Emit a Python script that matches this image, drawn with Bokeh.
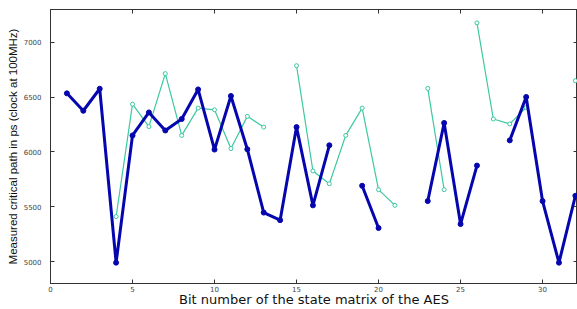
import numpy as np
from bokeh.plotting import figure
from bokeh.models import Range1d, LinearAxis, FixedTicker
from bokeh.embed import file_html
from bokeh.resources import INLINE

nan = float("nan")
bits = list(range(1, 33))
blue_ps = [6535, 6376, 6577, 4990, 6151, 6361, 6196, 6301, 6571, 6022, 6511, 6025,
           5447, 5378, 6227, 5513, 6061, nan, 5692, 5306, nan, nan, 5552, 6265,
           5342, 5876, nan, 6106, 6502, 5552, 4990, 5600]
teal_ps = [nan, nan, nan, 5411, 6436, 6232, 6715, 6151, 6400, 6385, 6031, 6325,
           6227, nan, 6787, 5827, 5710, 6151, 6400, 5656, 5513, nan, 6580, 5656,
           nan, 7178, 6301, 6256, 6406, nan, nan, 6650]
x_ticks = [0, 5, 10, 15, 20, 25, 30]
y_ticks = [5000, 5500, 6000, 6500, 7000]

BLUE = "#0606ae"
TEAL = "#3cc8a0"
FONT = "Liberation Sans"
WIDE = "DejaVu Sans"

p = figure(width=577, height=309, output_backend="svg", toolbar_location=None,
           x_range=Range1d(0, 32.13), y_range=Range1d(4800, 7300),
           min_border_left=50, min_border_right=0, min_border_top=9,
           min_border_bottom=22)
p.grid.visible = False
p.outline_line_color = "#333333"
p.outline_line_width = 1

p.line(bits, teal_ps, line_color=TEAL, line_width=1.2)
p.scatter(bits, teal_ps, marker="circle", size=4, line_color=TEAL,
          fill_color="white", line_width=1)
p.line(bits, blue_ps, line_color=BLUE, line_width=3)
p.scatter(bits, blue_ps, marker="circle", size=5, line_color=BLUE,
          fill_color=BLUE)

for ax in (p.xaxis[0], p.yaxis[0]):
    ax.major_tick_in = 4
    ax.major_tick_out = 0
    ax.minor_tick_in = 0
    ax.minor_tick_out = 0
    ax.axis_line_color = "#333333"
    ax.major_tick_line_color = "#333333"
    ax.major_label_text_font = WIDE
    ax.major_label_text_font_size = "7px"
    ax.major_label_text_color = "#444444"
    ax.axis_label_text_font_style = "normal"
    ax.axis_label_text_color = "#111111"

p.xaxis[0].ticker = FixedTicker(ticks=x_ticks)
p.yaxis[0].ticker = FixedTicker(ticks=y_ticks)
p.xaxis[0].axis_label = "Bit number of the state matrix of the AES"
p.xaxis[0].axis_label_text_font = WIDE
p.xaxis[0].axis_label_text_font_size = "13px"
p.xaxis[0].major_label_standoff = 2
p.xaxis[0].axis_label_standoff = -3
p.yaxis[0].axis_label = "Measured critical path in ps (clock at 100MHz)"
p.yaxis[0].axis_label_text_font = FONT
p.yaxis[0].axis_label_text_font_size = "11.5px"
p.yaxis[0].major_label_standoff = 9
p.yaxis[0].axis_label_standoff = 2

top = LinearAxis(ticker=FixedTicker(ticks=x_ticks),
                 major_label_overrides={t: "" for t in x_ticks},
                 major_tick_in=4, major_tick_out=0, minor_tick_in=0, minor_tick_out=0,
                 axis_line_color="#333333", major_tick_line_color="#333333")
right = LinearAxis(ticker=FixedTicker(ticks=y_ticks),
                   major_label_overrides={t: "" for t in y_ticks},
                   major_tick_in=4, major_tick_out=0, minor_tick_in=0, minor_tick_out=0,
                   axis_line_color="#333333", major_tick_line_color="#333333")
p.add_layout(top, "above")
p.add_layout(right, "right")

open("out.html", "w").write(file_html(p, INLINE))
